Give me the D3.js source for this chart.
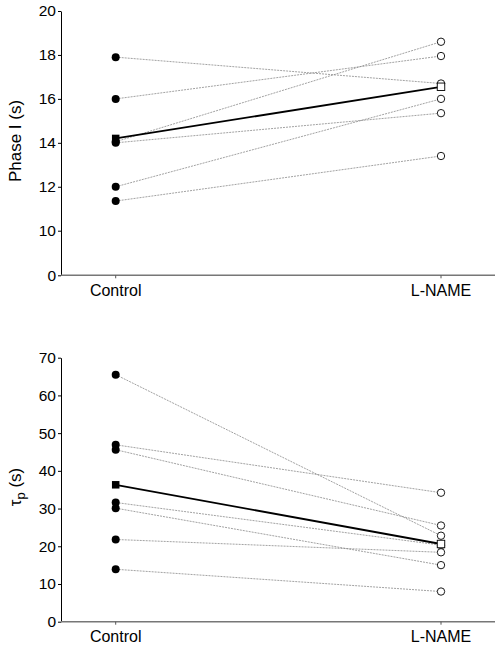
<!DOCTYPE html>
<html>
<head>
<meta charset="utf-8">
<script src="https://cdn.jsdelivr.net/npm/d3@7"></script>
<style>
  html, body { margin: 0; padding: 0; background: #fff; }
  svg { display: block; font-family: "Liberation Sans", Arial, Helvetica, sans-serif; }
</style>
</head>
<body>
<svg id="chart" width="496" height="646"></svg>
<script>
// ---- data ----
const conditions = ["Control", "L-NAME"];

// Panel A: Phase I (s)
const phaseControl = [17.9, 16.0, 14.05, 14.0, 12.0, 11.35];
const phaseLName   = [16.7, 17.95, 18.6, 15.35, 16.0, 13.4];
const phaseMean    = [14.2, 16.55];
const phaseTicks   = [0, 10, 12, 14, 16, 18, 20];

// Panel B: tau_p (s)
const tauControl = [65.5, 46.9, 45.6, 31.6, 30.1, 21.8, 13.9];
const tauLName   = [22.8, 34.2, 25.5, 20.3, 15.0, 18.4, 8.0];
const tauMean    = [36.3, 20.6];
const tauTicks   = [0, 10, 20, 30, 40, 50, 60, 70];

// ---- drawing ----
const svg = d3.select("#chart");
const xLeft = 61, xRight = 495;

const x = d3.scalePoint().domain(conditions).range([115.7, 441]);

function panel(cfg) {
  const g = svg.append("g");
  const y = cfg.y;
  const yBottom = y(0);

  // individual lines
  const pairs = cfg.ctrl.map((v, i) => [v, cfg.lname[i]]);
  g.selectAll("line.subj").data(pairs).enter().append("line")
    .attr("class", "subj")
    .attr("x1", x(conditions[0])).attr("x2", x(conditions[1]))
    .attr("y1", d => y(d[0])).attr("y2", d => y(d[1]))
    .attr("stroke", "#8a8a8a").attr("stroke-width", 0.8)
    .attr("stroke-dasharray", "2,1");

  // mean line
  g.append("line")
    .attr("x1", x(conditions[0])).attr("x2", x(conditions[1]))
    .attr("y1", y(cfg.mean[0])).attr("y2", y(cfg.mean[1]))
    .attr("stroke", "#000").attr("stroke-width", 1.8);

  // control points (filled)
  g.selectAll("circle.ctrl").data(cfg.ctrl).enter().append("circle")
    .attr("cx", x(conditions[0])).attr("cy", d => y(d)).attr("r", 4)
    .attr("fill", "#000");

  // L-NAME points (open)
  g.selectAll("circle.ln").data(cfg.lname).enter().append("circle")
    .attr("cx", x(conditions[1])).attr("cy", d => y(d)).attr("r", 3.7)
    .attr("fill", "#fff").attr("stroke", "#000").attr("stroke-width", 0.9);

  // mean squares
  const s = 7.5;
  g.append("rect")
    .attr("x", x(conditions[0]) - s / 2).attr("y", y(cfg.mean[0]) - s / 2)
    .attr("width", s).attr("height", s).attr("fill", "#000");
  g.append("rect")
    .attr("x", x(conditions[1]) - s / 2).attr("y", y(cfg.mean[1]) - s / 2)
    .attr("width", s).attr("height", s)
    .attr("fill", "#fff").attr("stroke", "#000").attr("stroke-width", 0.9);

  // y axis
  const yAxis = d3.axisLeft(y).tickValues(cfg.ticks).tickSize(3).tickPadding(2).tickSizeOuter(0);
  const ya = g.append("g").attr("transform", `translate(${xLeft},0)`).call(yAxis);
  ya.select(".domain").attr("stroke", "#000").attr("stroke-width", 1);
  ya.selectAll(".tick line").attr("stroke", "#000");
  ya.selectAll(".tick text").attr("font-size", 15.5).attr("fill", "#000")
    .attr("font-family", "Liberation Sans, Arial, sans-serif");

  // x axis
  const xa = g.append("g").attr("transform", `translate(0,${yBottom})`);
  xa.append("line").attr("x1", xLeft).attr("x2", xRight)
    .attr("stroke", "#777").attr("stroke-width", 1.5);
  conditions.forEach(c => {
    xa.append("line").attr("x1", x(c)).attr("x2", x(c)).attr("y1", 0).attr("y2", 3)
      .attr("stroke", "#555").attr("stroke-width", 1);
    xa.append("text").attr("x", x(c)).attr("y", 20.5)
      .attr("text-anchor", "middle").attr("font-size", 16).attr("fill", "#000")
      .text(c);
  });

  // y label
  const lab = g.append("text")
    .attr("transform", `translate(${cfg.labelX},${cfg.labelY}) rotate(-90)`)
    .attr("text-anchor", "middle").attr("font-size", 17).attr("fill", "#000");
  cfg.label(lab);
}

panel({
  y: d3.scaleLinear().domain([0, 10, 20]).range([275.3, 230.7, 11]),
  ctrl: phaseControl, lname: phaseLName, mean: phaseMean, ticks: phaseTicks,
  labelX: 21, labelY: 141,
  label: t => t.text("Phase I (s)")
});

panel({
  y: d3.scaleLinear().domain([0, 70]).range([621.7, 357.7]),
  ctrl: tauControl, lname: tauLName, mean: tauMean, ticks: tauTicks,
  labelX: 21, labelY: 487,
  label: t => {
    t.append("tspan").text("τ");
    t.append("tspan").attr("font-size", 13).attr("dy", 4).text("p");
    t.append("tspan").attr("dy", -4).text(" (s)");
  }
});
</script>
</body>
</html>
